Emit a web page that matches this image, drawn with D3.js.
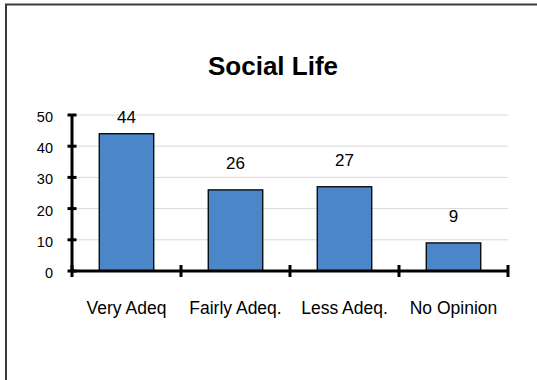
<!DOCTYPE html>
<html>
<head>
<meta charset="utf-8">
<script src="https://cdn.jsdelivr.net/npm/d3@7"></script>
<style>
  html, body { margin: 0; padding: 0; background: #fff; }
  svg { display: block; font-family: Arial, "Liberation Sans", sans-serif; }
</style>
</head>
<body>
<div id="chart"></div>
<script>
// Data
const categories = ['Very Adeq', 'Fairly Adeq.', 'Less Adeq.', 'No Opinion'];
const values = [44, 26, 27, 9];
const yTicks = [0, 10, 20, 30, 40, 50];

const W = 537, H = 380;
const m = { top: 115, right: 29, bottom: 109, left: 72 };
const w = W - m.left - m.right;
const h = H - m.top - m.bottom;

const svg = d3.select('#chart').append('svg')
  .attr('width', W).attr('height', H);

// outer frame (top and left edges only visible)
svg.append('path')
  .attr('d', `M6,${H}V4.5H${W}`)
  .attr('fill', 'none').attr('stroke', '#3a3a3a').attr('stroke-width', 2);

svg.append('text')
  .attr('x', 273).attr('y', 75)
  .attr('text-anchor', 'middle')
  .attr('font-size', 26).attr('font-weight', 'bold')
  .text('Social Life');

const g = svg.append('g').attr('transform', `translate(${m.left},${m.top})`);

const x = d3.scaleBand().domain(categories).range([0, w]).paddingInner(0).paddingOuter(0);
const y = d3.scaleLinear().domain([0, 50]).range([h, 0]);

// gridlines
g.append('g')
  .selectAll('line').data(yTicks.filter(d => d > 0)).join('line')
  .attr('x1', 0).attr('x2', w)
  .attr('y1', d => y(d)).attr('y2', d => y(d))
  .attr('stroke', '#d9d9d9').attr('stroke-width', 1);

// bars
const bw = x.bandwidth() * 0.5;
g.selectAll('rect.bar').data(values).join('rect')
  .attr('class', 'bar')
  .attr('x', (d, i) => x(categories[i]) + (x.bandwidth() - bw) / 2)
  .attr('y', d => y(d))
  .attr('width', bw)
  .attr('height', d => h - y(d))
  .attr('fill', '#4a86c8')
  .attr('stroke', '#000').attr('stroke-width', 1.3);

// value labels
g.selectAll('text.val').data(values).join('text')
  .attr('class', 'val')
  .attr('x', (d, i) => x(categories[i]) + x.bandwidth() / 2)
  .attr('y', d => Math.max(y(d) - 21, 8))
  .attr('text-anchor', 'middle').attr('font-size', 17)
  .text(d => d);

// y axis
const yAxis = g.append('g')
  .call(d3.axisLeft(y).tickValues(yTicks).tickSize(0).tickPadding(19));
yAxis.select('.domain').remove();
yAxis.selectAll('text').attr('font-size', 14.5).attr('fill', '#000').attr('dy', '0.45em')
  .attr('font-family', 'Arial, "Liberation Sans", sans-serif');
g.append('line').attr('x1', 0).attr('x2', 0).attr('y1', 0).attr('y2', h)
  .attr('stroke', '#000').attr('stroke-width', 3);
g.append('g').selectAll('line').data(yTicks).join('line')
  .attr('x1', -4.5).attr('x2', 4.5)
  .attr('y1', d => y(d)).attr('y2', d => y(d))
  .attr('stroke', '#000').attr('stroke-width', 3);

// x axis
g.append('line').attr('x1', 0).attr('x2', w).attr('y1', h).attr('y2', h)
  .attr('stroke', '#000').attr('stroke-width', 3);
const xEdges = categories.map(c => x(c)).concat([w]);
g.append('g').selectAll('line').data(xEdges).join('line')
  .attr('x1', d => d).attr('x2', d => d)
  .attr('y1', h - 6).attr('y2', h + 6)
  .attr('stroke', '#000').attr('stroke-width', 3);
g.append('g').selectAll('text').data(categories).join('text')
  .attr('x', d => x(d) + x.bandwidth() / 2)
  .attr('y', h + 43)
  .attr('text-anchor', 'middle').attr('font-size', 17.5)
  .text(d => d);
</script>
</body>
</html>
